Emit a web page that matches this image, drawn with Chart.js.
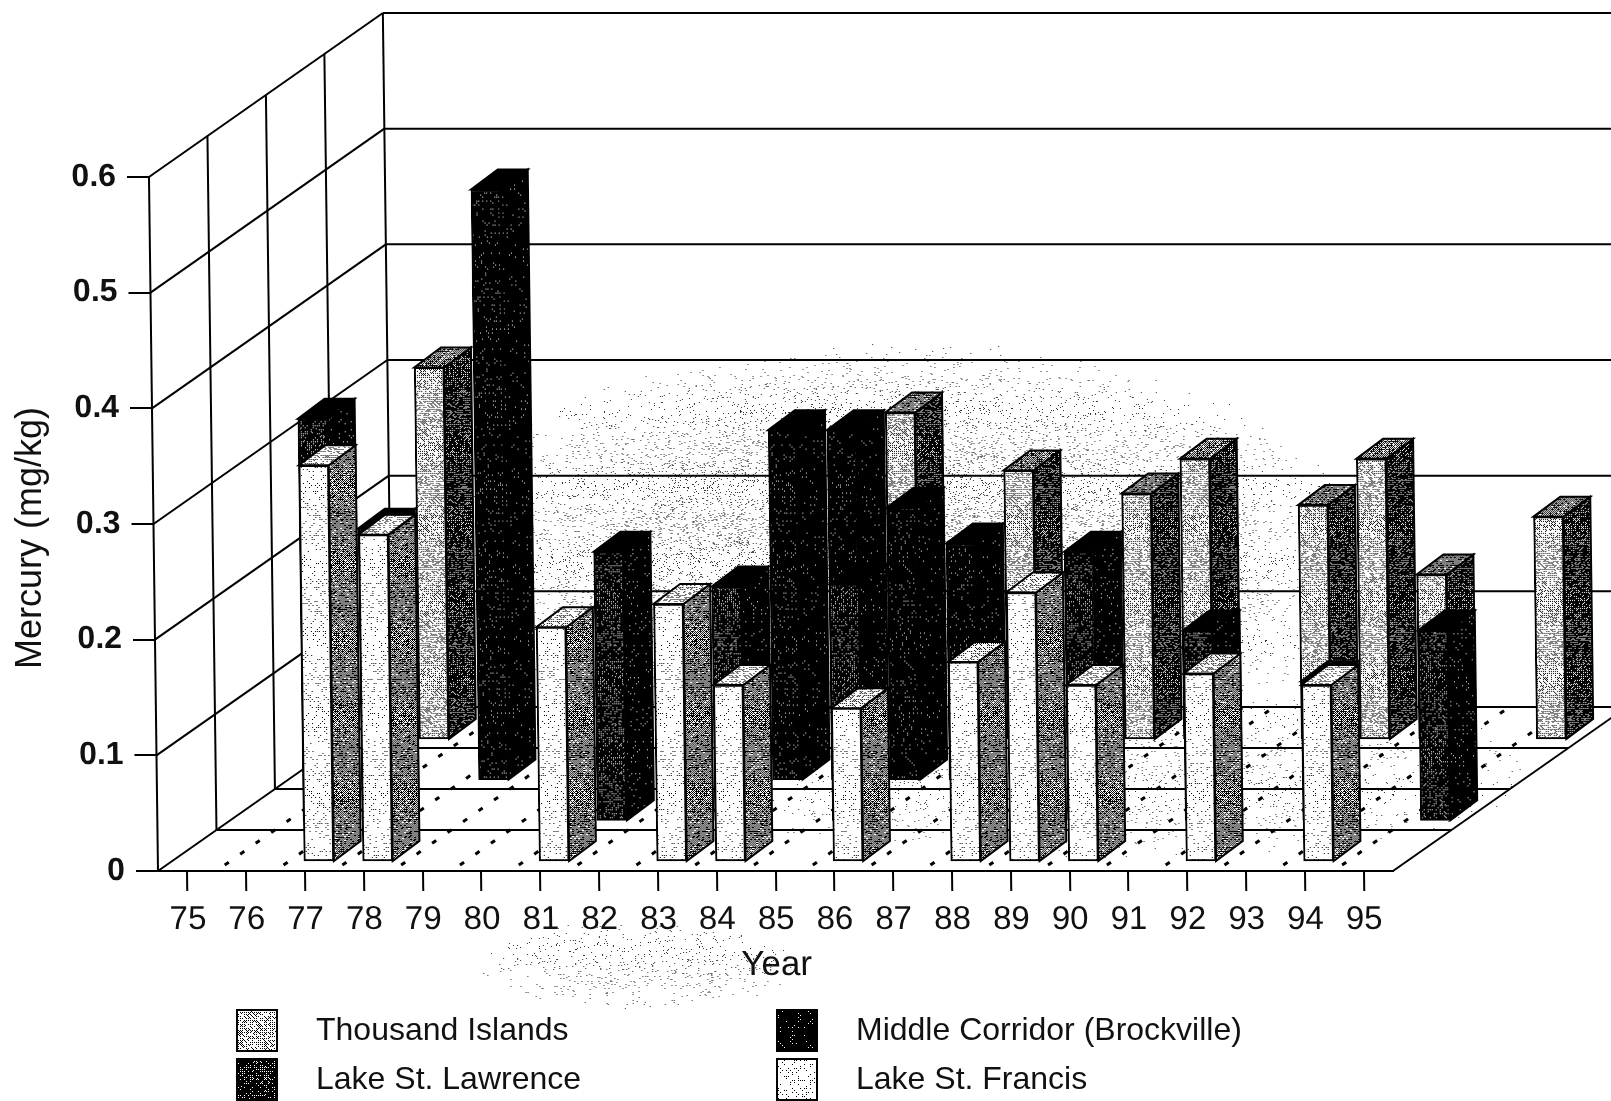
<!DOCTYPE html>
<html>
<head>
<meta charset="utf-8">
<title>Mercury in sediment</title>
<script src="https://cdn.jsdelivr.net/npm/chart.js@4/dist/chart.umd.js"></script>
<style>
  html, body { margin: 0; padding: 0; background: #fff; }
  canvas { display: block; }
</style>
</head>
<body>
<canvas id="chart" width="1611" height="1101"></canvas>
<script>
// Chart data (front row first, null = no sample)
const years = ['75', '76', '77', '78', '79', '80', '81', '82', '83', '84', '85', '86', '87', '88', '89', '90', '91', '92', '93', '94', '95'];
const yTicks = [0, 0.1, 0.2, 0.3, 0.4, 0.5, 0.6];
const seriesNames = ['Lake St. Francis', 'Lake St. Lawrence', 'Middle Corridor (Brockville)', 'Thousand Islands'];
const lakeStFrancis = [null, null, 0.343, 0.283, null, null, 0.203, null, 0.223, 0.153, null, 0.133, null, 0.173, 0.233, 0.153, null, 0.163, null, 0.153, null];
const lakeStLawrence = [null, 0.348, 0.253, null, null, null, 0.233, null, 0.203, null, 0.205, null, null, null, 0.233, null, 0.165, null, 0.121, null, 0.165];
const middleCorridor = [null, null, null, 0.511, null, null, null, null, 0.303, 0.303, 0.236, 0.205, null, null, null, null, null, null, null, null, null];
const thousandIslands = [null, 0.322, null, null, null, null, null, null, null, 0.283, null, 0.233, null, 0.213, 0.243, null, 0.203, 0.243, 0.143, null, 0.193];

// 3D look of the chart
const SKEW = 0.013;          // the scan leans a little to the left
const GRID_DX = 59, GRID_DY = 41, GRID_ROWS = 4;
const ROW_DX = 58.5, ROW_DY = 40.7;
const FRONT_DX = 14, FRONT_DY = 9;
const BAR_DX = 27, BAR_DY = 20;

const canvas = document.getElementById('chart');
const mainCtx = canvas.getContext('2d');
const bayer = [[0, 8, 2, 10], [12, 4, 14, 6], [3, 11, 1, 9], [15, 7, 13, 5]];

function noise(x, y) {
  const s = Math.sin(x * 12.9898 + y * 78.233) * 43758.5453;
  return s - Math.floor(s);
}

// Black and white halftone tile, level is the share of black pixels
function stipple(level) {
  const tile = document.createElement('canvas');
  tile.width = tile.height = 96;
  const t = tile.getContext('2d');
  t.fillStyle = '#fff';
  t.fillRect(0, 0, 96, 96);
  t.fillStyle = '#000';
  for (let y = 0; y < 96; y++) {
    for (let x = 0; x < 96; x++) {
      const cell = (bayer[y % 4][x % 4] + 0.5) / 16;
      if (cell * 0.65 + noise(x + level * 17, y) * 0.35 < level) t.fillRect(x, y, 1, 1);
    }
  }
  return mainCtx.createPattern(tile, 'repeat');
}

const fills = [
  { face: stipple(0.15), side: stipple(0.55), top: stipple(0.3) },
  { face: stipple(0.78), side: stipple(0.9), top: stipple(0.97) },
  { face: stipple(0.88), side: stipple(0.92), top: stipple(0.99) },
  { face: stipple(0.33), side: stipple(0.72), top: stipple(0.55) }
];

function polygon(ctx, points, fill) {
  ctx.beginPath();
  points.forEach((p, i) => (i ? ctx.lineTo(p[0], p[1]) : ctx.moveTo(p[0], p[1])));
  ctx.closePath();
  ctx.fillStyle = fill;
  ctx.fill();
  ctx.stroke();
}

function line(ctx, x1, y1, x2, y2) {
  ctx.beginPath();
  ctx.moveTo(x1, y1);
  ctx.lineTo(x2, y2);
  ctx.stroke();
}

// Faint dots from the scan, thinning out towards the edge of an ellipse
function scanSpeckle(ctx, cx, cy, rx, ry, density) {
  ctx.fillStyle = '#333';
  for (let py = Math.floor(cy - ry); py < cy + ry; py++) {
    for (let px = Math.floor(cx - rx); px < cx + rx; px++) {
      const d = ((px - cx) / rx) ** 2 + ((py - cy) / ry) ** 2;
      if (d < 1 && noise(px, py) < density * (1 - d)) ctx.fillRect(px, py, 1, 1);
    }
  }
}

// Walls and floor behind the bars
function drawRoom(chart) {
  const ctx = chart.ctx;
  const { x, y } = chart.scales;
  const left = x.left, right = x.right, bottom = y.bottom;
  const depthX = GRID_DX * GRID_ROWS, depthY = GRID_DY * GRID_ROWS;
  const band = (right - left) / years.length;

  ctx.save();
  scanSpeckle(ctx, 900, 560, 480, 220, 0.11);
  scanSpeckle(ctx, 640, 965, 170, 45, 0.05);
  scanSpeckle(ctx, 1100, 770, 450, 90, 0.04);

  ctx.strokeStyle = '#000';
  ctx.lineWidth = 2;

  // value lines run along the left wall and across the back wall
  yTicks.forEach(v => {
    const py = y.getPixelForValue(v);
    line(ctx, left, py, left + depthX, py - depthY);
    line(ctx, left + depthX, py - depthY, right + depthX, py - depthY);
  });

  // upright lines on the left wall, depth lines on the floor
  for (let d = 0; d <= GRID_ROWS; d++) {
    line(ctx, left + GRID_DX * d, bottom - GRID_DY * d, left + GRID_DX * d, y.top - GRID_DY * d);
    if (d > 0) line(ctx, left + GRID_DX * d, bottom - GRID_DY * d, right + GRID_DX * d, bottom - GRID_DY * d);
  }
  line(ctx, right, bottom, right + depthX, bottom - depthY);

  // dotted lines on the floor between the years
  ctx.lineWidth = 3;
  ctx.setLineDash([5, 14]);
  for (let i = 1; i < years.length; i++) {
    const fx = left + band * i;
    line(ctx, fx + 8, bottom - 6, fx + depthX, bottom - depthY);
  }
  ctx.restore();
}

// Side and top of each bar, the face itself is drawn by the bar controller
function drawBarSides(chart, index, meta) {
  const ctx = chart.ctx;
  const data = chart.data.datasets[index].data;
  ctx.strokeStyle = '#000';
  ctx.lineWidth = 2;
  meta.data.forEach((bar, i) => {
    if (data[i] === null) return;
    const { x, y, base, width } = bar.getProps(['x', 'y', 'base', 'width'], true);
    const l = x - width / 2, r = x + width / 2;
    polygon(ctx, [[r, y], [r + BAR_DX, y - BAR_DY], [r + BAR_DX, base - BAR_DY], [r, base]], fills[index].side);
    polygon(ctx, [[l, y], [l + BAR_DX, y - BAR_DY], [r + BAR_DX, y - BAR_DY], [r, y]], fills[index].top);
  });
}

function drawLegend(chart) {
  const ctx = chart.ctx;
  // reading order of the legend: index into seriesNames, column, row
  const entries = [[3, 0, 0], [2, 1, 0], [1, 0, 1], [0, 1, 1]];
  ctx.save();
  ctx.font = '32px "Liberation Sans"';
  ctx.textBaseline = 'middle';
  ctx.textAlign = 'left';
  ctx.strokeStyle = '#000';
  ctx.lineWidth = 2;
  entries.forEach(([s, col, row]) => {
    const bx = 237 + col * 540, by = 1010 + row * 49;
    ctx.fillStyle = fills[s].face;
    ctx.fillRect(bx, by, 40, 41);
    ctx.strokeRect(bx, by, 40, 41);
    ctx.fillStyle = '#111';
    ctx.fillText(seriesNames[s], 316 + col * 540, by + 21);
  });
  ctx.restore();
}

function drawYTitle(chart) {
  const ctx = chart.ctx;
  ctx.save();
  ctx.translate(31, 538);
  ctx.rotate(-Math.PI / 2);
  ctx.font = '36px "Liberation Sans"';
  ctx.textAlign = 'center';
  ctx.textBaseline = 'middle';
  ctx.fillStyle = '#111';
  ctx.fillText('Mercury (mg/kg)', 0, 0);
  ctx.restore();
}

const bars3d = {
  id: 'bars3d',
  beforeDraw(chart) {
    const bottom = chart.scales.y.bottom;
    chart.ctx.save();
    chart.ctx.transform(1, 0, SKEW, 1, -SKEW * bottom, 0);
  },
  beforeDatasetsDraw(chart) {
    drawRoom(chart);
  },
  beforeDatasetDraw(chart, args) {
    chart.ctx.save();
    chart.ctx.translate(FRONT_DX + ROW_DX * args.index, -FRONT_DY - ROW_DY * args.index);
    drawBarSides(chart, args.index, args.meta);
  },
  afterDatasetDraw(chart) {
    chart.ctx.restore();
  },
  afterDraw(chart) {
    chart.ctx.restore();
    drawYTitle(chart);
    drawLegend(chart);
  }
};

function makeDataset(index, values) {
  return {
    label: seriesNames[index],
    data: values,
    backgroundColor: fills[index].face,
    borderColor: '#000',
    borderWidth: 2,
    borderSkipped: false,
    barThickness: 30,
    grouped: false,
    clip: false
  };
}

new Chart(mainCtx, {
  type: 'bar',
  data: {
    labels: years,
    datasets: [
      makeDataset(0, lakeStFrancis),
      makeDataset(1, lakeStLawrence),
      makeDataset(2, middleCorridor),
      makeDataset(3, thousandIslands)
    ]
  },
  plugins: [bars3d],
  options: {
    responsive: false,
    animation: false,
    layout: { padding: { left: 0, right: 218, top: 177, bottom: 0 } },
    plugins: { legend: { display: false }, tooltip: { enabled: false } },
    scales: {
      x: {
        offset: true,
        afterFit: scale => { scale.height = 230; },
        border: { display: true, color: '#000', width: 2 },
        grid: { offset: false, drawOnChartArea: false, drawTicks: true, tickLength: 20, tickColor: '#000', lineWidth: 2 },
        ticks: { color: '#111', font: { family: '"Liberation Sans"', size: 33 }, padding: 9, maxRotation: 0, autoSkip: false },
        title: { display: true, text: 'Year', color: '#111', font: { family: '"Liberation Sans"', size: 35 }, padding: { top: 0, bottom: 115 } }
      },
      y: {
        min: 0,
        max: 0.6,
        afterFit: scale => { scale.width = 158; },
        afterBuildTicks: scale => { scale.ticks = yTicks.map(v => ({ value: v })); },
        border: { display: false },
        grid: { drawOnChartArea: false, drawTicks: true, tickLength: 22, tickColor: '#000', lineWidth: 2 },
        ticks: {
          color: '#111',
          font: { family: '"Liberation Sans"', size: 32, weight: 'bold' },
          padding: 11,
          callback: v => (v === 0 ? '0' : v.toFixed(1))
        }
      }
    }
  }
});
</script>
</body>
</html>
